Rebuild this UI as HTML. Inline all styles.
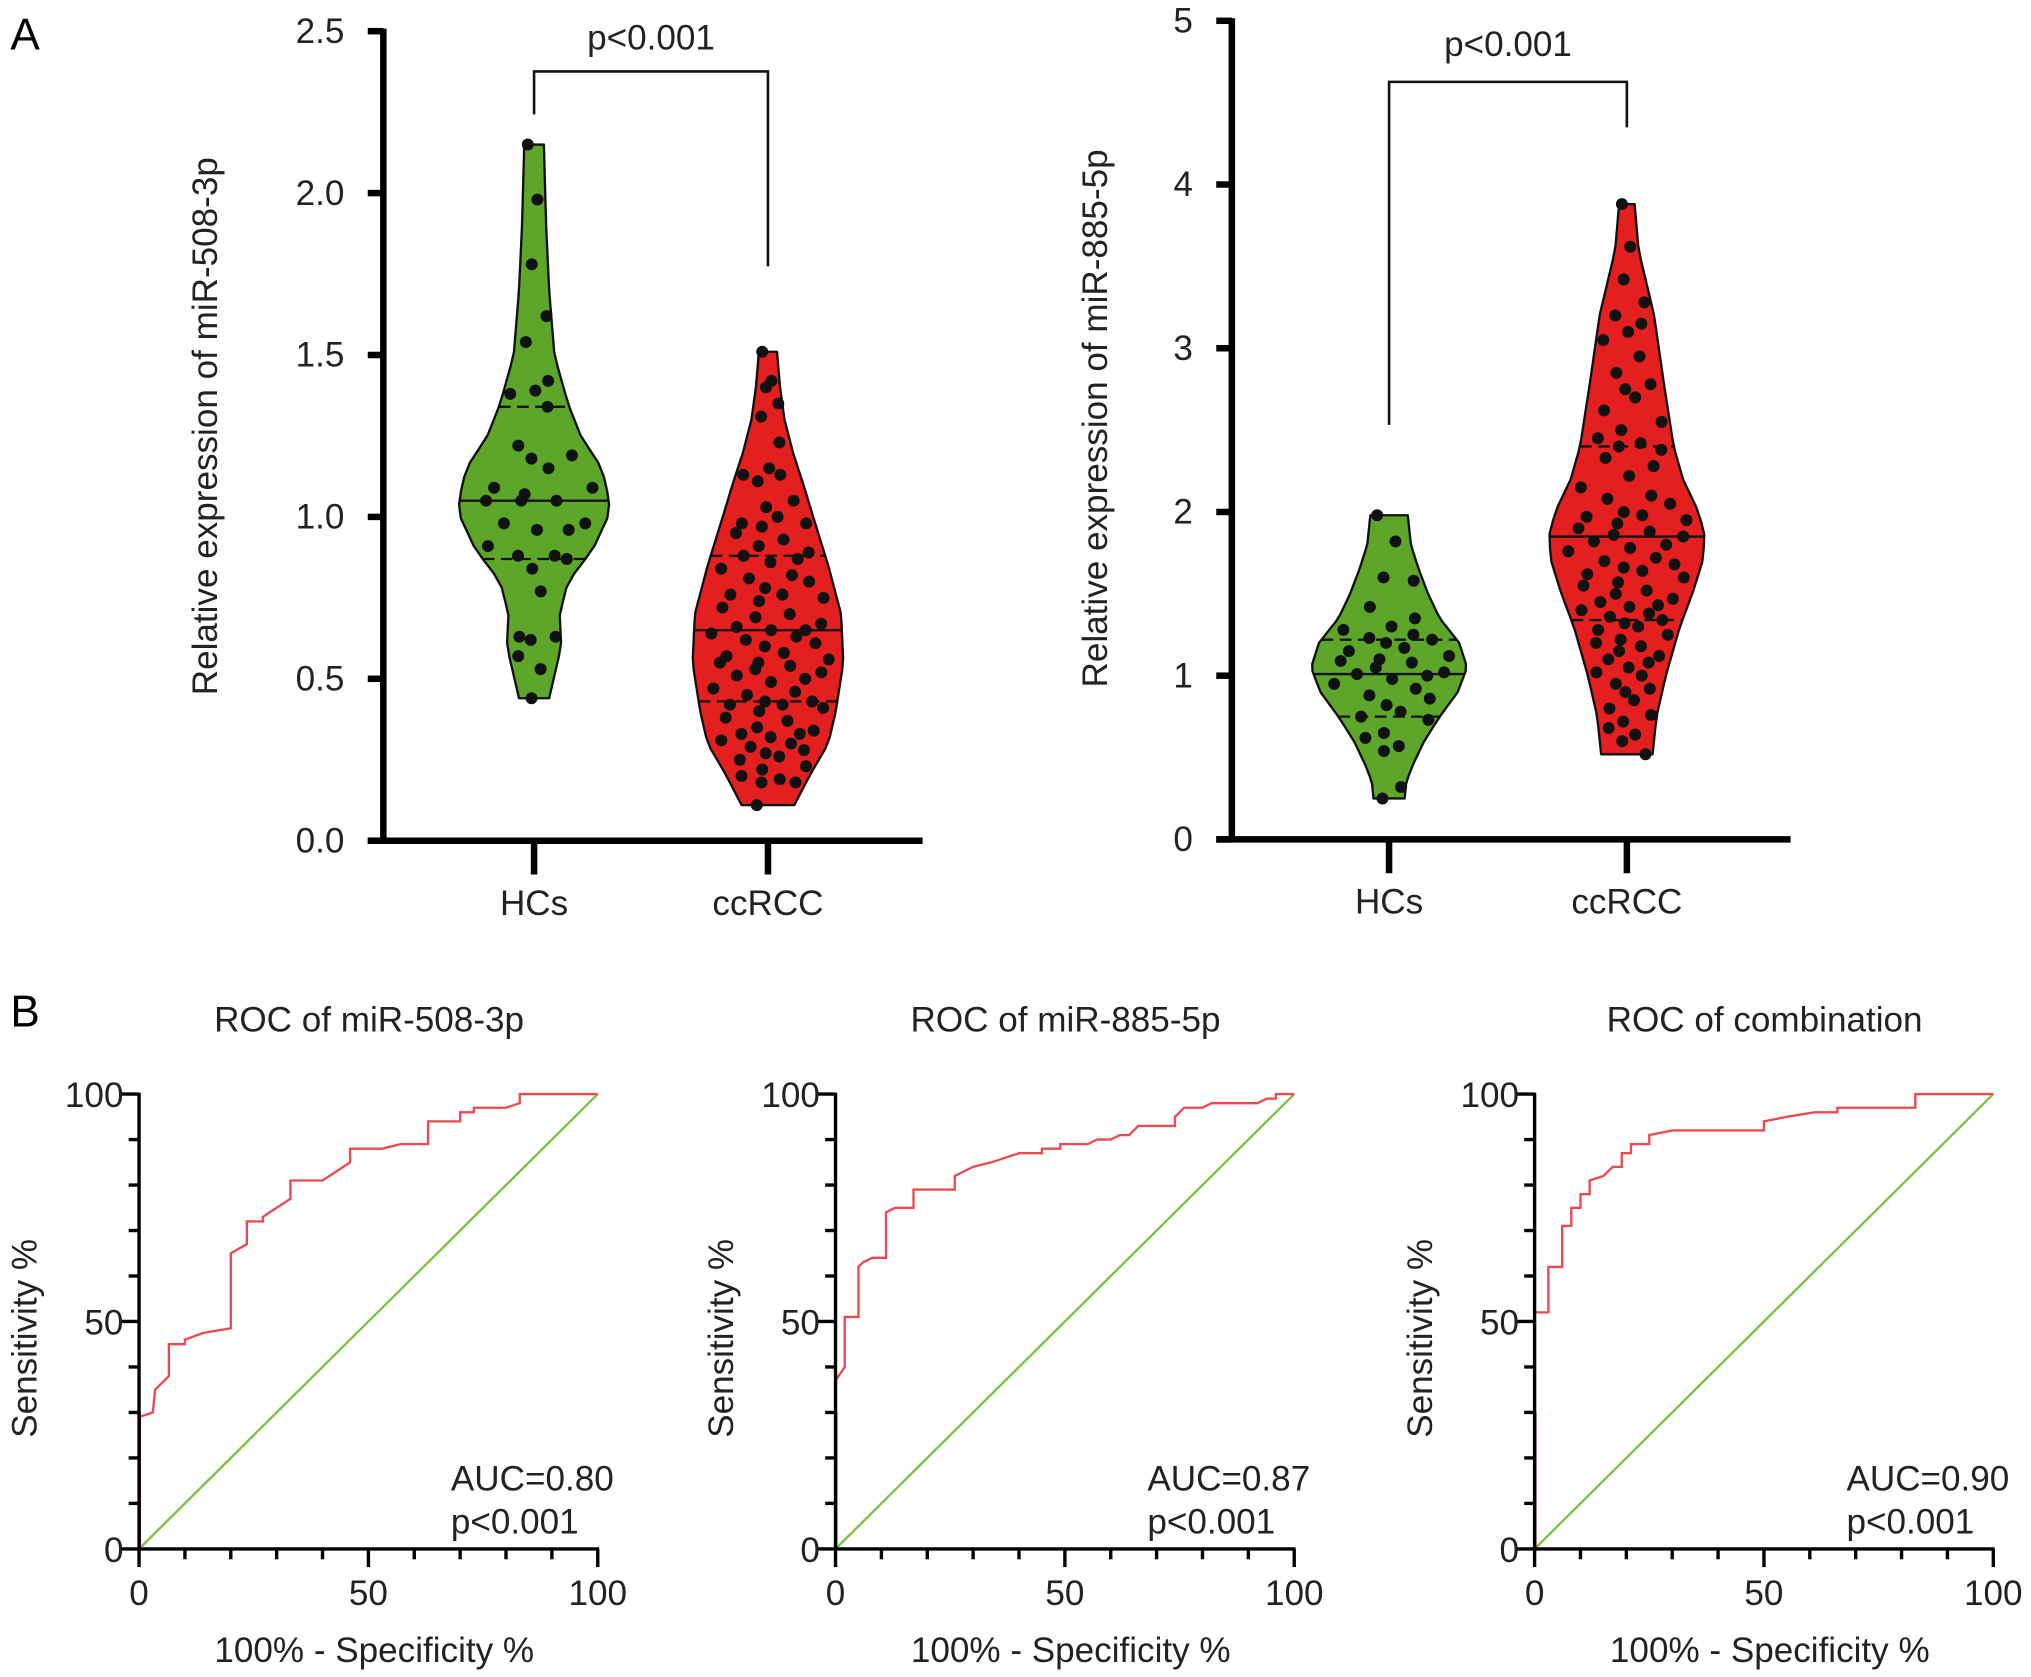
<!DOCTYPE html>
<html><head><meta charset="utf-8"><style>
html,body{margin:0;padding:0;background:#fff;}
svg{display:block;font-family:"Liberation Sans",Arial,sans-serif;}
</style></head><body>
<svg id="fig" width="2031" height="1677" viewBox="0 0 1563 1290.6" xmlns="http://www.w3.org/2000/svg">
<text x="8" y="38" font-size="34">A</text>
<text x="8" y="790" font-size="34">B</text>
<g id="va"></g>
<g id="vb"></g>
<g id="r1"></g>
<g id="r2"></g>
<g id="r3"></g>
</svg>
<script>
// ---------- data ----------
const groups = ["HCs","ccRCC"];
const hc508 = [2.15,1.98,1.78,1.62,1.54,1.42,1.39,1.38,1.34,1.22,1.19,1.18,1.15,1.09,1.09,1.07,1.05,1.05,1.05,0.98,0.98,0.96,0.96,0.91,0.88,0.88,0.87,0.84,0.77,0.63,0.63,0.62,0.57,0.53,0.44];
const rc508 = [1.51,1.42,1.40,1.35,1.31,1.23,1.15,1.13,1.13,1.11,1.05,1.03,1.00,0.98,0.98,0.97,0.95,0.93,0.91,0.89,0.88,0.87,0.86,0.84,0.82,0.81,0.80,0.78,0.76,0.76,0.75,0.74,0.72,0.70,0.69,0.67,0.66,0.65,0.65,0.64,0.63,0.62,0.61,0.60,0.58,0.57,0.56,0.55,0.55,0.54,0.53,0.52,0.51,0.50,0.49,0.47,0.46,0.45,0.43,0.43,0.42,0.42,0.41,0.40,0.38,0.37,0.35,0.34,0.33,0.33,0.32,0.31,0.30,0.29,0.28,0.27,0.26,0.25,0.23,0.22,0.20,0.19,0.18,0.18,0.11];
const hc885 = [1.98,1.82,1.60,1.58,1.42,1.35,1.30,1.28,1.25,1.23,1.22,1.20,1.17,1.15,1.12,1.10,1.09,1.08,1.05,1.02,1.01,1.00,0.98,0.95,0.92,0.88,0.86,0.82,0.78,0.75,0.73,0.65,0.62,0.57,0.54,0.32,0.25];
const rc885 = [3.88,3.62,3.42,3.28,3.20,3.15,3.10,3.05,2.95,2.85,2.78,2.75,2.70,2.62,2.55,2.50,2.45,2.42,2.40,2.38,2.33,2.28,2.22,2.15,2.10,2.08,2.05,2.00,1.98,1.97,1.95,1.93,1.90,1.88,1.86,1.85,1.82,1.80,1.78,1.76,1.72,1.70,1.68,1.66,1.64,1.62,1.60,1.57,1.55,1.52,1.50,1.47,1.45,1.43,1.42,1.40,1.38,1.36,1.34,1.32,1.30,1.28,1.25,1.22,1.20,1.18,1.15,1.12,1.10,1.08,1.05,1.02,1.00,0.95,0.92,0.90,0.85,0.80,0.76,0.72,0.68,0.64,0.60,0.52];
// violin stats [min, q1, median, q3, max]
const hc508Stats = [0.44,0.87,1.05,1.34,2.15];
const rc508Stats = [0.11,0.43,0.65,0.88,1.51];
const hc885Stats = [0.25,0.75,1.01,1.22,1.98];
const rc885Stats = [0.52,1.34,1.85,2.40,3.88];
// relative density profiles: [value, density 0..1]
const hc508Dens = [[0.44,0.2],[0.5,0.26],[0.6,0.36],[0.7,0.34],[0.8,0.45],[0.9,0.78],[1.0,0.98],[1.05,1.0],[1.15,0.9],[1.25,0.62],[1.35,0.45],[1.5,0.27],[1.7,0.2],[1.9,0.16],[2.15,0.13]];
const rc508Dens = [[0.11,0.35],[0.2,0.55],[0.3,0.8],[0.4,0.9],[0.55,1.0],[0.7,0.97],[0.85,0.8],[1.0,0.6],[1.1,0.47],[1.2,0.33],[1.3,0.22],[1.4,0.16],[1.51,0.12]];
const hc885Dens = [[0.25,0.2],[0.35,0.22],[0.45,0.3],[0.6,0.45],[0.75,0.65],[0.9,0.88],[1.05,1.0],[1.2,0.9],[1.35,0.65],[1.5,0.5],[1.65,0.38],[1.8,0.28],[1.98,0.24]];
const rc885Dens = [[0.52,0.33],[0.75,0.38],[1.0,0.5],[1.3,0.68],[1.5,0.84],[1.7,0.97],[1.85,1.0],[2.0,0.92],[2.2,0.72],[2.4,0.6],[2.8,0.47],[3.2,0.35],[3.6,0.15],[3.88,0.1]];
const ticks508 = ["0.0","0.5","1.0","1.5","2.0","2.5"];
const tickVals508 = [0,0.5,1.0,1.5,2.0,2.5];
const ticks885 = ["0","1","2","3","4","5"];
const tickVals885 = [0,1,2,3,4,5];
// ROC curves [fpr, tpr] in %
const roc508 = [[0,0],[0,29],[3,30],[3.5,35],[6.5,38],[6.5,45],[10,45],[10,46],[14,47.5],[20,48.5],[20,65],[23.5,67],[23.5,72],[27,72],[27,73],[33,77],[33,81],[40,81],[46,85],[46,88],[53,88],[57,89],[63,89],[63,94],[70,94],[70,96],[73,96],[73,97],[80,97],[83,98],[83,100],[100,100]];
const roc885 = [[0,0],[0,37],[2,40],[2,51],[5,51],[5,62],[6,63],[8,64],[11,64],[11,74],[13,75],[17,75],[17,79],[26,79],[26,82],[30,84],[34,85],[40,87],[45,87],[45,88],[49,88],[49,89],[55,89],[57,90],[60,90],[62,91],[64,91],[66,93],[74,93],[74,95],[76,97],[80,97],[82,98],[92,98],[94,99],[96,99],[96,100],[100,100]];
const rocComb = [[0,0],[0,52],[3,52],[3,62],[6,62],[6,71],[8,71],[8,75],[10,75],[10,78],[12,78],[12,81],[15,82],[17,84],[19,84],[19,87],[21,87],[21,89],[25,89],[25,91],[30,92],[50,92],[50,94],[55,95],[61,96],[66,96],[66,97],[83,97],[83,100],[100,100]];
const rocAUC = ["AUC=0.80","AUC=0.87","AUC=0.90"];
const rocTitles = ["ROC of miR-508-3p","ROC of miR-885-5p","ROC of combination"];

// ---------- helpers ----------
const NS="http://www.w3.org/2000/svg";
const FS=27;
function mk(parent,tag,attrs,text){const e=document.createElementNS(NS,tag);for(const k in attrs)e.setAttribute(k,attrs[k]);if(text!==undefined)e.textContent=text;parent.appendChild(e);return e;}
function interp(dens,v){if(v<=dens[0][0])return dens[0][1];for(let i=1;i<dens.length;i++){if(v<=dens[i][0]){const a=dens[i-1],b=dens[i];return a[1]+(b[1]-a[1])*(v-a[0])/(b[0]-a[0]);}}return dens[dens.length-1][1];}
const jit=[-0.75,0.35,-0.2,0.85,-0.5,0.6,0.05,-0.9,0.45,-0.35,0.75,-0.05,0.25,-0.65,0.95,-0.15];

function violinChart(gid,cfg){
  const g=document.getElementById(gid);
  const y=v=>cfg.y0+(cfg.y1-cfg.y0)*(v-cfg.vmin)/(cfg.vmax-cfg.vmin);
  cfg.series.forEach((s,si)=>{
    const cx=cfg.xs[si], st=s.stats;
    const hw=v=>interp(s.dens,v)*cfg.maxW;
    const n=40, L=[],R=[];
    for(let i=0;i<=n;i++){const v=st[0]+(st[4]-st[0])*i/n;R.push([cx+hw(v),y(v)]);L.push([cx-hw(v),y(v)]);}
    let d="M"+L[0][0]+","+L[0][1];
    R.forEach(p=>d+=" L"+p[0]+","+p[1]);
    L.slice().reverse().forEach(p=>d+=" L"+p[0]+","+p[1]);
    d+=" Z";
    const vp=mk(g,"path",{d:d,fill:s.color,stroke:"#111","stroke-width":1.8,"stroke-linejoin":"round"});
    
    
    [[st[1],true],[st[2],false],[st[3],true]].forEach(([v,dash])=>{
      const w=hw(v);
      const ln=mk(g,"line",{x1:cx-w,x2:cx+w,y1:y(v),y2:y(v),stroke:"#111","stroke-width":1.8,"stroke-dasharray":dash?"9,5":"none"});
      
      
    });
    s.vals.forEach((v,i)=>{
      const c=mk(g,"circle",{cx:cx+jit[i%jit.length]*hw(v)*0.85,cy:y(v),r:4.6,fill:"#111"});
      
      
    });
  });
  const ya=mk(g,"line",{x1:cfg.ax,x2:cfg.ax,y1:cfg.y1-2,y2:cfg.y0+2,stroke:"#000","stroke-width":5});
  
  
  const xa=mk(g,"line",{x1:cfg.ax-12,x2:cfg.xEnd,y1:cfg.y0,y2:cfg.y0,stroke:"#000","stroke-width":5});
  
  
  cfg.tickVals.forEach((v,i)=>{
    mk(g,"line",{x1:cfg.ax-12,x2:cfg.ax,y1:y(v),y2:y(v),stroke:"#000","stroke-width":5});
    const t=mk(g,"text",{x:cfg.ax-30,y:y(v)+9,"font-size":FS,"text-anchor":"end",fill:"#222"},cfg.ticks[i]);
    
    
  });
  groups.forEach((gname,i)=>{
    mk(g,"line",{x1:cfg.xs[i],x2:cfg.xs[i],y1:cfg.y0,y2:cfg.y0+26,stroke:"#000","stroke-width":5});
    const t=mk(g,"text",{x:cfg.xs[i],y:cfg.y0+57,"font-size":FS,"text-anchor":"middle",fill:"#222"},gname);
    
    
  });
  const yl=mk(g,"text",{x:0,y:0,"font-size":FS,"text-anchor":"middle",fill:"#222",transform:`translate(${cfg.ylx},${cfg.yly}) rotate(-90)`},cfg.ylabel);
  
  
  const b=cfg.bracket;
  const bp=mk(g,"path",{d:`M${cfg.xs[0]},${b[0]} V${b[2]} H${cfg.xs[1]} V${b[1]}`,fill:"none",stroke:"#111","stroke-width":2});
  
  
  const pt=mk(g,"text",{x:(cfg.xs[0]+cfg.xs[1])/2,y:b[3],"font-size":FS,"text-anchor":"middle",fill:"#222"},"p<0.001");
  
  
}

violinChart("va",{ax:295,y0:647,y1:24,vmin:0,vmax:2.5,xEnd:710,xs:[411,591],maxW:58,ticks:ticks508,tickVals:tickVals508,
  ylabel:"Relative expression of miR-508-3p",ylx:167,yly:328,bracket:[88,205,55,38],
  series:[{name:"hcs",vals:hc508,stats:hc508Stats,dens:hc508Dens,color:"#5ea62a"},{name:"ccrcc",vals:rc508,stats:rc508Stats,dens:rc508Dens,color:"#e41f1f"}]});
violinChart("vb",{ax:948,y0:646,y1:16,vmin:0,vmax:5,xEnd:1378,xs:[1069,1252],maxW:60,ticks:ticks885,tickVals:tickVals885,
  ylabel:"Relative expression of miR-885-5p",ylx:852,yly:322,bracket:[327,98,63,43],
  series:[{name:"hcs",vals:hc885,stats:hc885Stats,dens:hc885Dens,color:"#5ea62a"},{name:"ccrcc",vals:rc885,stats:rc885Stats,dens:rc885Dens,color:"#e41f1f"}]});

function rocChart(gid,x0,pts,ti){
  const g=document.getElementById(gid);
  const W=353, yB=1192, yT=842;
  const X=v=>x0+W*v/100, Y=v=>yB-(yB-yT)*v/100;
  const tt=mk(g,"text",{x:x0+177,y:794,"font-size":FS,"text-anchor":"middle",fill:"#222"},rocTitles[ti]);
  
  
  const dg=mk(g,"line",{x1:X(0),y1:Y(0),x2:X(100),y2:Y(100),stroke:"#7cc242","stroke-width":1.8});
  
  
  const c=mk(g,"polyline",{points:pts.map(p=>X(p[0])+","+Y(p[1])).join(" "),fill:"none",stroke:"#ea4a50","stroke-width":1.8});
  
  
  mk(g,"line",{x1:X(0)+0.5,y1:Y(0),x2:X(0)+0.5,y2:Y(30),stroke:"#c0101a","stroke-width":2});
  const ya=mk(g,"line",{x1:X(0),x2:X(0),y1:yT-1,y2:yB+1,stroke:"#000","stroke-width":2.6});
  
  
  const xa=mk(g,"line",{x1:X(0)-1,x2:X(100)+1,y1:yB,y2:yB,stroke:"#000","stroke-width":2.6});
  
  
  for(let v=0;v<=100;v+=10){
    const maj=v%50===0;
    mk(g,"line",{x1:X(v),x2:X(v),y1:yB,y2:yB+(maj?14:8),stroke:"#000","stroke-width":2.6});
    mk(g,"line",{x1:X(0)-(maj?14:8),x2:X(0),y1:Y(v),y2:Y(v),stroke:"#000","stroke-width":2.6});
    if(maj){
      const a=mk(g,"text",{x:X(v),y:yB+43,"font-size":FS,"text-anchor":"middle",fill:"#222"},String(v));
      
      
      const b=mk(g,"text",{x:X(0)-12,y:Y(v)+10,"font-size":FS,"text-anchor":"end",fill:"#222"},String(v));
      
      
    }
  }
  const xl=mk(g,"text",{x:x0+181,y:1279,"font-size":FS,"text-anchor":"middle",fill:"#222"},"100% - Specificity %");
  
  
  const yl=mk(g,"text",{x:0,y:0,"font-size":FS,"text-anchor":"middle",fill:"#222",transform:`translate(${x0-79},1030) rotate(-90)`},"Sensitivity %");
  
  
  const au=mk(g,"text",{x:x0+240,y:1147,"font-size":FS,fill:"#222"},rocAUC[ti]);
  
  
  const pv=mk(g,"text",{x:x0+240,y:1180,"font-size":FS,fill:"#222"},"p<0.001");
  
  
}
rocChart("r1",107,roc508,0);
rocChart("r2",643,roc885,1);
rocChart("r3",1181,rocComb,2);
</script>
</body></html>
